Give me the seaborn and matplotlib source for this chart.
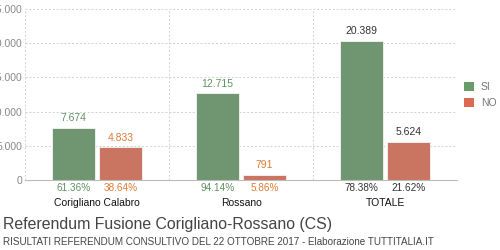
import matplotlib
matplotlib.use("Agg")
import matplotlib.pyplot as plt
import seaborn as sns
import pandas as pd
from matplotlib.patches import Patch

categories = ["Corigliano Calabro", "Rossano", "TOTALE"]
si_votes = [7674, 12715, 20389]
no_votes = [4833, 791, 5624]
si_labels = ["7.674", "12.715", "20.389"]
no_labels = ["4.833", "791", "5.624"]
si_pct = ["61.36%", "94.14%", "78.38%"]
no_pct = ["38.64%", "5.86%", "21.62%"]
yticks = [0, 5000, 10000, 15000, 20000, 25000]
ytick_labels = ["0", "5.000", "10.000", "15.000", "20.000", "25.000"]
choices = ["SI", "NO"]

GREEN = "#6a9c6b"
RED = "#db6a50"
GREEN_T = "#5e9460"
ORANGE_T = "#e07a34"
DARK_T = "#333333"

df = pd.DataFrame({
    "cat": categories * 2,
    "val": si_votes + no_votes,
    "choice": ["SI"] * 3 + ["NO"] * 3,
})

sns.set_style("white")
plt.rcParams["font.family"] = ["Liberation Sans", "DejaVu Sans"]

fig = plt.figure(figsize=(5, 2.5), dpi=100)
ax = fig.add_axes([0.05, 0.28, 0.864, 0.684])

sns.barplot(data=df, x="cat", y="val", hue="choice", hue_order=choices,
            palette=[GREEN, RED], width=0.653, gap=0.1, ax=ax,
            edgecolor="#f4f4f4", linewidth=0.6, legend=False, errorbar=None)

ax.set_xlim(-0.5, 2.5)
ax.set_ylim(0, 25000)
ax.set_yticks(yticks)
ax.set_yticklabels(ytick_labels, fontsize=7.5, color="#888888")
ax.tick_params(axis="y", length=0, pad=2)
ax.set_xticks([])
ax.set_xlabel("")
ax.set_ylabel("")

for s in ["top", "right", "left"]:
    ax.spines[s].set_visible(False)
ax.spines["bottom"].set_color("#bbbbbb")
ax.spines["bottom"].set_linewidth(0.8)

# grid
for y in yticks[1:]:
    ax.axhline(y, color="#d0d0d0", lw=0.7, ls=(0, (2, 2)), zorder=0)
for x in [-0.5, 0.5, 1.5, 2.5]:
    ax.axvline(x, color="#d0d0d0", lw=0.7, ls=(0, (2, 2)), zorder=0)

offs = 0.653 / 4
for i, cat in enumerate(categories):
    tc_si = GREEN_T if i < 2 else DARK_T
    tc_no = ORANGE_T if i < 2 else DARK_T
    ax.text(i - offs, si_votes[i] + 600, si_labels[i], ha="center", va="bottom",
            fontsize=7.5, color=tc_si)
    ax.text(i + offs, no_votes[i] + 600, no_labels[i], ha="center", va="bottom",
            fontsize=7.5, color=tc_no)
    ax.text(i - offs, -1200, si_pct[i], ha="center", va="center",
            fontsize=7.2, color=tc_si)
    ax.text(i + offs, -1200, no_pct[i], ha="center", va="center",
            fontsize=7.2, color=tc_no)
    ax.text(i, -3300, cat, ha="center", va="center", fontsize=7.5, color="#111111")

handles = [Patch(facecolor=GREEN, edgecolor="none"), Patch(facecolor=RED, edgecolor="none")]
fig.legend(handles, choices, loc="center left", bbox_to_anchor=(0.928, 0.62),
           frameon=False, fontsize=7.5, handlelength=1.0, handleheight=1.0,
           handletextpad=0.6, labelspacing=0.5, labelcolor="#777777",
           borderpad=0, borderaxespad=0)

fig.text(0.006, 0.104, "Referendum Fusione Corigliano-Rossano (CS)", fontsize=11.4,
         color="#444444", ha="left", va="center")
fig.text(0.006, 0.032, "RISULTATI REFERENDUM CONSULTIVO DEL 22 OTTOBRE 2017 - Elaborazione TUTTITALIA.IT",
         fontsize=7.1, color="#444444", ha="left", va="center")

fig.savefig("out.png", dpi=100)
